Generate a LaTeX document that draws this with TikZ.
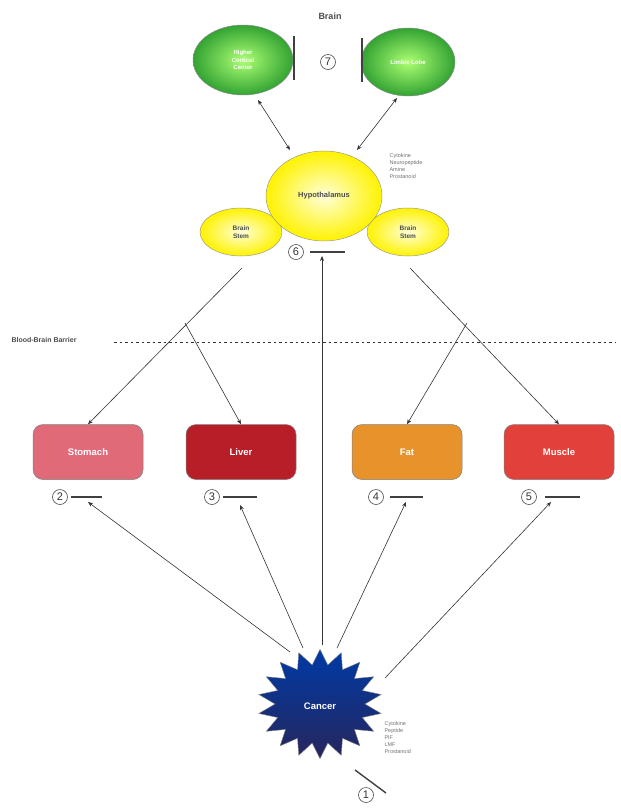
\documentclass[tikz,border=0pt]{standalone}
\usepackage{fontspec}
\setmainfont{Liberation Sans}
\usetikzlibrary{shapes.geometric,shapes.misc,arrows.meta,shadings}
\definecolor{stomachc}{HTML}{E06A78}
\definecolor{liverc}{HTML}{B81E28}
\definecolor{fatc}{HTML}{E8922C}
\definecolor{musclec}{HTML}{E2403A}
\begin{document}
\begin{tikzpicture}[x=1pt,y=-1pt,
  conn/.style={draw=black!80,line width=0.6pt,-{Stealth[length=5pt,width=4pt]}},
  bconn/.style={draw=black!80,line width=0.6pt,{Stealth[length=5pt,width=4pt]}-{Stealth[length=5pt,width=4pt]}},
  greenell/.style={ellipse,draw=black!45,line width=0.5pt,inner color=green!45!lime!55!white,outer color=green!55!black!80,text=white,font=\bfseries\fontsize{6}{7.5}\selectfont,align=center},
  yellowell/.style={ellipse,draw=black!40,line width=0.5pt,inner color=yellow!15!white,outer color=yellow!90!orange,text=black!70,font=\bfseries\fontsize{6.5}{8}\selectfont,align=center},
  organ/.style={rounded corners=10pt,draw=black!50,line width=0.5pt,minimum width=110pt,minimum height=55pt,text=white,font=\bfseries\fontsize{9.5}{10}\selectfont},
  num/.style={circle,draw=black!70,line width=0.6pt,inner sep=0pt,minimum size=15pt,font=\fontsize{11}{11}\selectfont,text=black!80},
  inhib/.style={draw=black!75,line width=1.4pt},
  small/.style={font=\fontsize{5.5}{7}\selectfont,text=black!55,align=left,anchor=north west}
]
\useasboundingbox (0,0) rectangle (621,809);

% Brain region
\node[font=\bfseries\fontsize{9}{10}\selectfont,text=black!70] (brain) at (330,16) {Brain};
\node[greenell,minimum width=100pt,minimum height=70pt] (hcc) at (243,60) {Higher\\Cortical\\Center};
\node[greenell,minimum width=94pt,minimum height=68pt] (limbic) at (408,62) {Limbic Lobe};
\node[num] (n7) at (328,62) {7};
\coordinate (b7a) at (294,36); \coordinate (b7b) at (294,80);
\coordinate (b7c) at (362,38); \coordinate (b7d) at (362,82);
\draw[inhib] (b7a) -- (b7b);
\draw[inhib] (b7c) -- (b7d);

\node[yellowell,minimum width=82pt,minimum height=48pt] (bsl) at (241,232) {Brain\\Stem};
\node[yellowell,minimum width=82pt,minimum height=48pt] (bsr) at (408,232) {Brain\\Stem};
\node[yellowell,minimum width=116pt,minimum height=90pt,font=\bfseries\fontsize{7.5}{8}\selectfont] (hypo) at (324,196) {Hypothalamus};
\node[small] (cyt1) at (386,150) {Cytokine\\Neuropeptide\\Amine\\Prostanoid};

\node[num] (n6) at (296,252) {6};
\coordinate (b6a) at (310,252); \coordinate (b6b) at (345,252);
\draw[inhib,line width=1.6pt] (b6a) -- (b6b);

\coordinate (ha) at (258,100); \coordinate (hb) at (290,150);
\coordinate (la) at (397,98); \coordinate (lb) at (357,150);
\draw[bconn] (ha) -- (hb);
\draw[bconn] (la) -- (lb);

% Blood-brain barrier
\node[font=\bfseries\fontsize{7}{8}\selectfont,text=black!70,anchor=west] (bbb) at (8,340) {Blood-Brain Barrier};
\coordinate (bbbs) at (114,342); \coordinate (bbbe) at (616,342);
\draw[black!80,line width=0.9pt,dash pattern=on 2.5pt off 3pt] (bbbs) -- (bbbe);

% Organs
\node[organ,fill=stomachc] (stomach) at (88,452) {Stomach};
\node[organ,fill=liverc] (liver) at (241,452) {Liver};
\node[organ,fill=fatc] (fat) at (407,452) {Fat};
\node[organ,fill=musclec] (muscle) at (559,452) {Muscle};

% Brain stem to organs
\coordinate (lsplit) at (185,323);
\coordinate (rsplit) at (467,323);
\coordinate (bsl0) at (242,268);
\coordinate (bsr0) at (410,268);
\draw[conn] (bsl0) -- (stomach.north);
\draw[conn] (lsplit) -- (liver.north);
\draw[conn] (bsr0) -- (muscle.north);
\draw[conn] (rsplit) -- (fat.north);

% Numbers below organs
\node[num] (n2) at (60,497) {2};
\node[num] (n3) at (212,497) {3};
\node[num] (n4) at (376,497) {4};
\node[num] (n5) at (529,497) {5};
\coordinate (b2a) at (71,497); \coordinate (b2b) at (102,497);
\coordinate (b3a) at (223,497); \coordinate (b3b) at (257,497);
\coordinate (b4a) at (390,497); \coordinate (b4b) at (423,497);
\coordinate (b5a) at (545,497); \coordinate (b5b) at (580,497);
\foreach \a/\b in {b2a/b2b,b3a/b3b,b4a/b4b,b5a/b5b} \draw[inhib,line width=1.6pt] (\a) -- (\b);

% Cancer
\node[star,star points=18,star point ratio=1.38,minimum size=124pt,draw=black!50,line width=0.4pt,
  top color=blue!65!cyan!65!black,bottom color=blue!25!black!85,yscale=-0.88] (cancer) at (320,704) {};
\node[text=white,font=\bfseries\fontsize{9.5}{10}\selectfont] (cancertxt) at (320,706) {Cancer};
\node[small] (cyt2) at (381,718) {Cytokine\\Peptide\\PIF\\LMF\\Prostanoid};
\node[num] (n1) at (366,795) {1};
\coordinate (b1a) at (355,770); \coordinate (b1b) at (386,793);
\draw[inhib] (b1a) -- (b1b);

% Cancer to targets
\coordinate (c1) at (290,652);
\coordinate (c2) at (303,648);
\coordinate (c3) at (322,645);
\coordinate (c4) at (337,648);
\coordinate (c5) at (385,678);
\coordinate (t1) at (88,502);
\coordinate (t2) at (240,505);
\coordinate (t3) at (322,256);
\coordinate (t4) at (406,502);
\coordinate (t5) at (551,502);
\draw[conn] (c1) -- (t1);
\draw[conn] (c2) -- (t2);
\draw[conn] (c3) -- (t3);
\draw[conn] (c4) -- (t4);
\draw[conn] (c5) -- (t5);
\end{tikzpicture}
\end{document}
